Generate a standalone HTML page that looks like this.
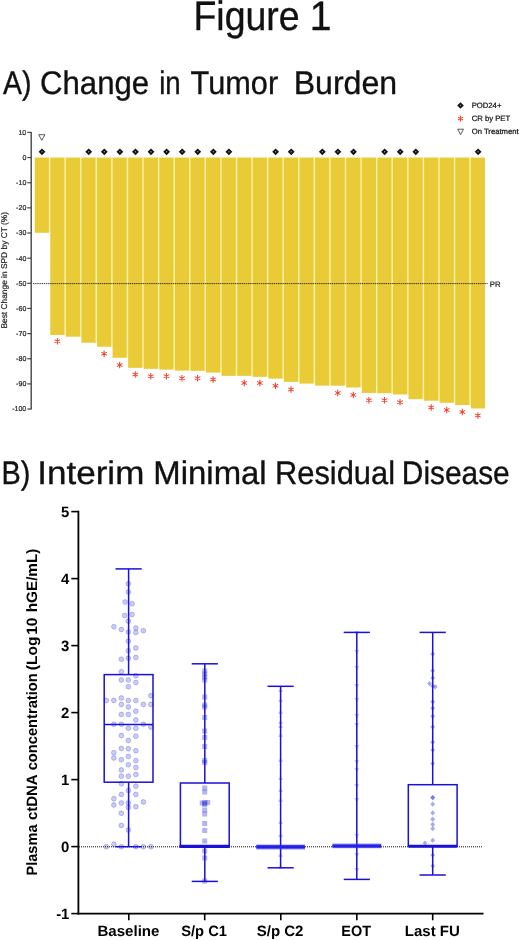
<!DOCTYPE html><html><head><meta charset="utf-8"><title>Figure 1</title><style>
html,body{margin:0;padding:0;background:#fff;}body{width:520px;height:940px;overflow:hidden;font-family:"Liberation Sans",sans-serif;}svg{display:block;position:absolute;left:0;top:0}text{font-family:"Liberation Sans",sans-serif;text-rendering:geometricPrecision;}
</style></head><body>
<div style="position:absolute;left:0;top:0;width:520px;height:940px;transform:translateZ(0);will-change:transform;background:#fff">
<svg width="520" height="940" viewBox="0 0 520 940">
<rect width="520" height="940" fill="#fff"/>
<text id="t0" x="193.41" y="30" font-size="41" fill="#111" stroke="#111" stroke-width="0.35" textLength="106.26" lengthAdjust="spacingAndGlyphs">Figure</text>
<text id="t1" x="309.79" y="30" font-size="41" fill="#111" stroke="#111" stroke-width="0.35" textLength="21.75" lengthAdjust="spacingAndGlyphs">1</text>
<text id="a0" x="3.05" y="94.3" font-size="32.7" fill="#111" stroke="#111" stroke-width="0.35" textLength="28.50" lengthAdjust="spacingAndGlyphs">A)</text>
<text id="a1" x="40.03" y="94.3" font-size="32.7" fill="#111" stroke="#111" stroke-width="0.35" textLength="109.10" lengthAdjust="spacingAndGlyphs">Change</text>
<text id="a2" x="159.15" y="94.3" font-size="32.7" fill="#111" stroke="#111" stroke-width="0.35" textLength="21.49" lengthAdjust="spacingAndGlyphs">in</text>
<text id="a3" x="190.61" y="94.3" font-size="32.7" fill="#111" stroke="#111" stroke-width="0.35" textLength="87.53" lengthAdjust="spacingAndGlyphs">Tumor</text>
<text id="a4" x="293.65" y="94.3" font-size="32.7" fill="#111" stroke="#111" stroke-width="0.35" textLength="103.44" lengthAdjust="spacingAndGlyphs">Burden</text>
<text id="b0" x="1.53" y="483.7" font-size="32.7" fill="#111" stroke="#111" stroke-width="0.35" textLength="28.89" lengthAdjust="spacingAndGlyphs">B)</text>
<text id="b1" x="37.38" y="483.7" font-size="32.7" fill="#111" stroke="#111" stroke-width="0.35" textLength="106.91" lengthAdjust="spacingAndGlyphs">Interim</text>
<text id="b2" x="153.36" y="483.7" font-size="32.7" fill="#111" stroke="#111" stroke-width="0.35" textLength="113.28" lengthAdjust="spacingAndGlyphs">Minimal</text>
<text id="b3" x="274.95" y="483.7" font-size="32.7" fill="#111" stroke="#111" stroke-width="0.35" textLength="120.12" lengthAdjust="spacingAndGlyphs">Residual</text>
<text id="b4" x="401.82" y="483.7" font-size="32.7" fill="#111" stroke="#111" stroke-width="0.35" textLength="107.87" lengthAdjust="spacingAndGlyphs">Disease</text>
<g id="chartA">
<rect x="48.60" y="157.55" width="1.98" height="75.25" fill="#FFF3A6"/>
<rect x="64.18" y="157.55" width="1.98" height="177.41" fill="#FFF3A6"/>
<rect x="79.75" y="157.55" width="1.98" height="179.16" fill="#FFF3A6"/>
<rect x="95.33" y="157.55" width="1.98" height="185.19" fill="#FFF3A6"/>
<rect x="110.90" y="157.55" width="1.98" height="189.20" fill="#FFF3A6"/>
<rect x="126.48" y="157.55" width="1.98" height="200.25" fill="#FFF3A6"/>
<rect x="142.05" y="157.55" width="1.98" height="210.29" fill="#FFF3A6"/>
<rect x="157.62" y="157.55" width="1.98" height="211.29" fill="#FFF3A6"/>
<rect x="173.20" y="157.55" width="1.98" height="212.04" fill="#FFF3A6"/>
<rect x="188.77" y="157.55" width="1.98" height="213.05" fill="#FFF3A6"/>
<rect x="204.35" y="157.55" width="1.98" height="213.30" fill="#FFF3A6"/>
<rect x="219.92" y="157.55" width="1.98" height="215.06" fill="#FFF3A6"/>
<rect x="235.50" y="157.55" width="1.98" height="218.32" fill="#FFF3A6"/>
<rect x="251.07" y="157.55" width="1.98" height="218.32" fill="#FFF3A6"/>
<rect x="266.65" y="157.55" width="1.98" height="219.32" fill="#FFF3A6"/>
<rect x="282.22" y="157.55" width="1.98" height="221.08" fill="#FFF3A6"/>
<rect x="297.80" y="157.55" width="1.98" height="224.34" fill="#FFF3A6"/>
<rect x="313.37" y="157.55" width="1.98" height="226.10" fill="#FFF3A6"/>
<rect x="328.95" y="157.55" width="1.98" height="228.11" fill="#FFF3A6"/>
<rect x="344.52" y="157.55" width="1.98" height="228.11" fill="#FFF3A6"/>
<rect x="360.10" y="157.55" width="1.98" height="229.87" fill="#FFF3A6"/>
<rect x="375.67" y="157.55" width="1.98" height="235.39" fill="#FFF3A6"/>
<rect x="391.25" y="157.55" width="1.98" height="235.64" fill="#FFF3A6"/>
<rect x="406.82" y="157.55" width="1.98" height="236.89" fill="#FFF3A6"/>
<rect x="422.40" y="157.55" width="1.98" height="241.66" fill="#FFF3A6"/>
<rect x="437.97" y="157.55" width="1.98" height="243.17" fill="#FFF3A6"/>
<rect x="453.55" y="157.55" width="1.98" height="245.18" fill="#FFF3A6"/>
<rect x="469.12" y="157.55" width="1.98" height="247.44" fill="#FFF3A6"/>
<rect x="34.70" y="157.55" width="14.2" height="75.25" fill="#E8CB37"/>
<rect x="50.28" y="157.55" width="14.2" height="177.41" fill="#E8CB37"/>
<rect x="65.85" y="157.55" width="14.2" height="179.16" fill="#E8CB37"/>
<rect x="81.42" y="157.55" width="14.2" height="185.19" fill="#E8CB37"/>
<rect x="97.00" y="157.55" width="14.2" height="189.20" fill="#E8CB37"/>
<rect x="112.58" y="157.55" width="14.2" height="200.25" fill="#E8CB37"/>
<rect x="128.15" y="157.55" width="14.2" height="210.29" fill="#E8CB37"/>
<rect x="143.72" y="157.55" width="14.2" height="211.29" fill="#E8CB37"/>
<rect x="159.30" y="157.55" width="14.2" height="212.04" fill="#E8CB37"/>
<rect x="174.88" y="157.55" width="14.2" height="213.05" fill="#E8CB37"/>
<rect x="190.45" y="157.55" width="14.2" height="213.30" fill="#E8CB37"/>
<rect x="206.02" y="157.55" width="14.2" height="215.06" fill="#E8CB37"/>
<rect x="221.60" y="157.55" width="14.2" height="218.32" fill="#E8CB37"/>
<rect x="237.18" y="157.55" width="14.2" height="218.32" fill="#E8CB37"/>
<rect x="252.75" y="157.55" width="14.2" height="219.32" fill="#E8CB37"/>
<rect x="268.32" y="157.55" width="14.2" height="221.08" fill="#E8CB37"/>
<rect x="283.90" y="157.55" width="14.2" height="224.34" fill="#E8CB37"/>
<rect x="299.47" y="157.55" width="14.2" height="226.10" fill="#E8CB37"/>
<rect x="315.05" y="157.55" width="14.2" height="228.11" fill="#E8CB37"/>
<rect x="330.62" y="157.55" width="14.2" height="228.11" fill="#E8CB37"/>
<rect x="346.20" y="157.55" width="14.2" height="229.87" fill="#E8CB37"/>
<rect x="361.77" y="157.55" width="14.2" height="235.39" fill="#E8CB37"/>
<rect x="377.35" y="157.55" width="14.2" height="235.64" fill="#E8CB37"/>
<rect x="392.92" y="157.55" width="14.2" height="236.89" fill="#E8CB37"/>
<rect x="408.50" y="157.55" width="14.2" height="241.66" fill="#E8CB37"/>
<rect x="424.07" y="157.55" width="14.2" height="243.17" fill="#E8CB37"/>
<rect x="439.65" y="157.55" width="14.2" height="245.18" fill="#E8CB37"/>
<rect x="455.22" y="157.55" width="14.2" height="247.44" fill="#E8CB37"/>
<rect x="470.80" y="157.55" width="14.2" height="250.95" fill="#E8CB37"/>
<line x1="31.2" y1="131.90" x2="31.2" y2="409.55" stroke="#444" stroke-width="1.4"/>
<line x1="27.3" y1="132.40" x2="31.2" y2="132.40" stroke="#444" stroke-width="1.2"/>
<text x="26.3" y="134.80" font-size="7.05" fill="#222" stroke="#222" stroke-width="0.2" text-anchor="end">10</text>
<line x1="27.3" y1="157.55" x2="31.2" y2="157.55" stroke="#444" stroke-width="1.2"/>
<text x="26.3" y="159.95" font-size="7.05" fill="#222" stroke="#222" stroke-width="0.2" text-anchor="end">0</text>
<line x1="27.3" y1="182.70" x2="31.2" y2="182.70" stroke="#444" stroke-width="1.2"/>
<text x="26.3" y="185.10" font-size="7.05" fill="#222" stroke="#222" stroke-width="0.2" text-anchor="end">-10</text>
<line x1="27.3" y1="207.85" x2="31.2" y2="207.85" stroke="#444" stroke-width="1.2"/>
<text x="26.3" y="210.25" font-size="7.05" fill="#222" stroke="#222" stroke-width="0.2" text-anchor="end">-20</text>
<line x1="27.3" y1="233.00" x2="31.2" y2="233.00" stroke="#444" stroke-width="1.2"/>
<text x="26.3" y="235.40" font-size="7.05" fill="#222" stroke="#222" stroke-width="0.2" text-anchor="end">-30</text>
<line x1="27.3" y1="258.15" x2="31.2" y2="258.15" stroke="#444" stroke-width="1.2"/>
<text x="26.3" y="260.55" font-size="7.05" fill="#222" stroke="#222" stroke-width="0.2" text-anchor="end">-40</text>
<line x1="27.3" y1="283.30" x2="31.2" y2="283.30" stroke="#444" stroke-width="1.2"/>
<text x="26.3" y="285.70" font-size="7.05" fill="#222" stroke="#222" stroke-width="0.2" text-anchor="end">-50</text>
<line x1="27.3" y1="308.45" x2="31.2" y2="308.45" stroke="#444" stroke-width="1.2"/>
<text x="26.3" y="310.85" font-size="7.05" fill="#222" stroke="#222" stroke-width="0.2" text-anchor="end">-60</text>
<line x1="27.3" y1="333.60" x2="31.2" y2="333.60" stroke="#444" stroke-width="1.2"/>
<text x="26.3" y="336.00" font-size="7.05" fill="#222" stroke="#222" stroke-width="0.2" text-anchor="end">-70</text>
<line x1="27.3" y1="358.75" x2="31.2" y2="358.75" stroke="#444" stroke-width="1.2"/>
<text x="26.3" y="361.15" font-size="7.05" fill="#222" stroke="#222" stroke-width="0.2" text-anchor="end">-80</text>
<line x1="27.3" y1="383.90" x2="31.2" y2="383.90" stroke="#444" stroke-width="1.2"/>
<text x="26.3" y="386.30" font-size="7.05" fill="#222" stroke="#222" stroke-width="0.2" text-anchor="end">-90</text>
<line x1="27.3" y1="409.05" x2="31.2" y2="409.05" stroke="#444" stroke-width="1.2"/>
<text x="26.3" y="411.45" font-size="7.05" fill="#222" stroke="#222" stroke-width="0.2" text-anchor="end">-100</text>
<line x1="33" y1="283.6" x2="487.7" y2="283.6" stroke="#222" stroke-width="0.9" stroke-dasharray="1.4 0.75"/>
<text x="489.8" y="286.5" font-size="7.75" fill="#222" stroke="#222" stroke-width="0.2">PR</text>
<text transform="translate(7.3,328.6) rotate(-90)" font-size="8.3" fill="#222" stroke="#222" stroke-width="0.2" textLength="116.6" lengthAdjust="spacingAndGlyphs">Best Change in SPD by CT (%)</text>
<path d="M42.00 148.40L45.40 151.80L42.00 155.20L38.60 151.80Z" fill="#111"/><circle cx="42.00" cy="151.80" r="0.7" fill="#999"/>
<path d="M88.73 148.40L92.13 151.80L88.73 155.20L85.33 151.80Z" fill="#111"/><circle cx="88.73" cy="151.80" r="0.7" fill="#999"/>
<path d="M104.30 148.40L107.70 151.80L104.30 155.20L100.90 151.80Z" fill="#111"/><circle cx="104.30" cy="151.80" r="0.7" fill="#999"/>
<path d="M119.88 148.40L123.28 151.80L119.88 155.20L116.48 151.80Z" fill="#111"/><circle cx="119.88" cy="151.80" r="0.7" fill="#999"/>
<path d="M135.45 148.40L138.85 151.80L135.45 155.20L132.05 151.80Z" fill="#111"/><circle cx="135.45" cy="151.80" r="0.7" fill="#999"/>
<path d="M151.02 148.40L154.42 151.80L151.02 155.20L147.62 151.80Z" fill="#111"/><circle cx="151.02" cy="151.80" r="0.7" fill="#999"/>
<path d="M166.60 148.40L170.00 151.80L166.60 155.20L163.20 151.80Z" fill="#111"/><circle cx="166.60" cy="151.80" r="0.7" fill="#999"/>
<path d="M182.17 148.40L185.57 151.80L182.17 155.20L178.77 151.80Z" fill="#111"/><circle cx="182.17" cy="151.80" r="0.7" fill="#999"/>
<path d="M197.75 148.40L201.15 151.80L197.75 155.20L194.35 151.80Z" fill="#111"/><circle cx="197.75" cy="151.80" r="0.7" fill="#999"/>
<path d="M213.32 148.40L216.72 151.80L213.32 155.20L209.92 151.80Z" fill="#111"/><circle cx="213.32" cy="151.80" r="0.7" fill="#999"/>
<path d="M228.90 148.40L232.30 151.80L228.90 155.20L225.50 151.80Z" fill="#111"/><circle cx="228.90" cy="151.80" r="0.7" fill="#999"/>
<path d="M275.62 148.40L279.02 151.80L275.62 155.20L272.23 151.80Z" fill="#111"/><circle cx="275.62" cy="151.80" r="0.7" fill="#999"/>
<path d="M291.20 148.40L294.60 151.80L291.20 155.20L287.80 151.80Z" fill="#111"/><circle cx="291.20" cy="151.80" r="0.7" fill="#999"/>
<path d="M322.35 148.40L325.75 151.80L322.35 155.20L318.95 151.80Z" fill="#111"/><circle cx="322.35" cy="151.80" r="0.7" fill="#999"/>
<path d="M337.93 148.40L341.32 151.80L337.93 155.20L334.53 151.80Z" fill="#111"/><circle cx="337.93" cy="151.80" r="0.7" fill="#999"/>
<path d="M353.50 148.40L356.90 151.80L353.50 155.20L350.10 151.80Z" fill="#111"/><circle cx="353.50" cy="151.80" r="0.7" fill="#999"/>
<path d="M384.65 148.40L388.05 151.80L384.65 155.20L381.25 151.80Z" fill="#111"/><circle cx="384.65" cy="151.80" r="0.7" fill="#999"/>
<path d="M400.22 148.40L403.62 151.80L400.22 155.20L396.82 151.80Z" fill="#111"/><circle cx="400.22" cy="151.80" r="0.7" fill="#999"/>
<path d="M415.80 148.40L419.20 151.80L415.80 155.20L412.40 151.80Z" fill="#111"/><circle cx="415.80" cy="151.80" r="0.7" fill="#999"/>
<path d="M478.10 148.40L481.50 151.80L478.10 155.20L474.70 151.80Z" fill="#111"/><circle cx="478.10" cy="151.80" r="0.7" fill="#999"/>
<path d="M38.70 134.70L44.90 134.70L41.80 140.30Z" fill="#fff" stroke="#333" stroke-width="0.8"/>
<path d="M57.38 338.05L57.38 344.45M54.60 339.65L60.15 342.85M60.15 339.65L54.60 342.85" stroke="#F0402A" stroke-width="1.05" fill="none"/>
<path d="M104.10 350.55L104.10 356.95M101.33 352.15L106.87 355.35M106.87 352.15L101.33 355.35" stroke="#F0402A" stroke-width="1.05" fill="none"/>
<path d="M119.68 361.80L119.68 368.20M116.90 363.40L122.45 366.60M122.45 363.40L116.90 366.60" stroke="#F0402A" stroke-width="1.05" fill="none"/>
<path d="M135.25 371.30L135.25 377.70M132.48 372.90L138.02 376.10M138.02 372.90L132.48 376.10" stroke="#F0402A" stroke-width="1.05" fill="none"/>
<path d="M150.82 373.05L150.82 379.45M148.05 374.65L153.60 377.85M153.60 374.65L148.05 377.85" stroke="#F0402A" stroke-width="1.05" fill="none"/>
<path d="M166.40 373.05L166.40 379.45M163.63 374.65L169.17 377.85M169.17 374.65L163.63 377.85" stroke="#F0402A" stroke-width="1.05" fill="none"/>
<path d="M181.97 375.05L181.97 381.45M179.20 376.65L184.75 379.85M184.75 376.65L179.20 379.85" stroke="#F0402A" stroke-width="1.05" fill="none"/>
<path d="M197.55 375.05L197.55 381.45M194.78 376.65L200.32 379.85M200.32 376.65L194.78 379.85" stroke="#F0402A" stroke-width="1.05" fill="none"/>
<path d="M213.12 376.30L213.12 382.70M210.35 377.90L215.90 381.10M215.90 377.90L210.35 381.10" stroke="#F0402A" stroke-width="1.05" fill="none"/>
<path d="M244.28 379.80L244.28 386.20M241.50 381.40L247.05 384.60M247.05 381.40L241.50 384.60" stroke="#F0402A" stroke-width="1.05" fill="none"/>
<path d="M259.85 379.80L259.85 386.20M257.08 381.40L262.62 384.60M262.62 381.40L257.08 384.60" stroke="#F0402A" stroke-width="1.05" fill="none"/>
<path d="M275.43 382.55L275.43 388.95M272.65 384.15L278.20 387.35M278.20 384.15L272.65 387.35" stroke="#F0402A" stroke-width="1.05" fill="none"/>
<path d="M291.00 386.30L291.00 392.70M288.23 387.90L293.77 391.10M293.77 387.90L288.23 391.10" stroke="#F0402A" stroke-width="1.05" fill="none"/>
<path d="M337.73 389.80L337.73 396.20M334.95 391.40L340.50 394.60M340.50 391.40L334.95 394.60" stroke="#F0402A" stroke-width="1.05" fill="none"/>
<path d="M353.30 391.80L353.30 398.20M350.53 393.40L356.07 396.60M356.07 393.40L350.53 396.60" stroke="#F0402A" stroke-width="1.05" fill="none"/>
<path d="M368.88 397.05L368.88 403.45M366.10 398.65L371.65 401.85M371.65 398.65L366.10 401.85" stroke="#F0402A" stroke-width="1.05" fill="none"/>
<path d="M384.45 397.05L384.45 403.45M381.68 398.65L387.22 401.85M387.22 398.65L381.68 401.85" stroke="#F0402A" stroke-width="1.05" fill="none"/>
<path d="M400.02 399.05L400.02 405.45M397.25 400.65L402.80 403.85M402.80 400.65L397.25 403.85" stroke="#F0402A" stroke-width="1.05" fill="none"/>
<path d="M431.18 404.30L431.18 410.70M428.40 405.90L433.95 409.10M433.95 405.90L428.40 409.10" stroke="#F0402A" stroke-width="1.05" fill="none"/>
<path d="M446.75 406.80L446.75 413.20M443.98 408.40L449.52 411.60M449.52 408.40L443.98 411.60" stroke="#F0402A" stroke-width="1.05" fill="none"/>
<path d="M462.32 408.80L462.32 415.20M459.55 410.40L465.10 413.60M465.10 410.40L459.55 413.60" stroke="#F0402A" stroke-width="1.05" fill="none"/>
<path d="M477.90 412.30L477.90 418.70M475.13 413.90L480.67 417.10M480.67 413.90L475.13 417.10" stroke="#F0402A" stroke-width="1.05" fill="none"/>
<path d="M460.50 102.20L463.80 105.50L460.50 108.80L457.20 105.50Z" fill="#111"/><circle cx="460.50" cy="105.50" r="0.7" fill="#999"/>
<path d="M460.50 115.70L460.50 121.50M457.99 117.15L463.01 120.05M463.01 117.15L457.99 120.05" stroke="#F0402A" stroke-width="1.05" fill="none"/>
<path d="M457.70 129.20L463.50 129.20L460.60 134.60Z" fill="#fff" stroke="#333" stroke-width="0.8"/>
<text x="471.7" y="108.2" font-size="7.7" fill="#111" stroke="#111" stroke-width="0.22">POD24+</text>
<text x="471.7" y="121.2" font-size="7.7" fill="#111" stroke="#111" stroke-width="0.22">CR by PET</text>
<text x="471.7" y="134.3" font-size="7.7" fill="#111" stroke="#111" stroke-width="0.22">On Treatment</text>
</g>
<g id="chartB">
<circle cx="128.35" cy="583.75" r="2.4" fill="#3A44D8" fill-opacity="0.27" stroke="#3A44D8" stroke-opacity="0.32" stroke-width="0.9"/>
<circle cx="128.35" cy="592.00" r="2.4" fill="#3A44D8" fill-opacity="0.27" stroke="#3A44D8" stroke-opacity="0.32" stroke-width="0.9"/>
<circle cx="125.10" cy="602.00" r="2.4" fill="#3A44D8" fill-opacity="0.27" stroke="#3A44D8" stroke-opacity="0.32" stroke-width="0.9"/>
<circle cx="132.10" cy="603.75" r="2.4" fill="#3A44D8" fill-opacity="0.27" stroke="#3A44D8" stroke-opacity="0.32" stroke-width="0.9"/>
<circle cx="124.60" cy="615.50" r="2.4" fill="#3A44D8" fill-opacity="0.27" stroke="#3A44D8" stroke-opacity="0.32" stroke-width="0.9"/>
<circle cx="132.10" cy="614.50" r="2.4" fill="#3A44D8" fill-opacity="0.27" stroke="#3A44D8" stroke-opacity="0.32" stroke-width="0.9"/>
<circle cx="128.35" cy="621.25" r="2.4" fill="#3A44D8" fill-opacity="0.27" stroke="#3A44D8" stroke-opacity="0.32" stroke-width="0.9"/>
<circle cx="113.85" cy="626.75" r="2.4" fill="#3A44D8" fill-opacity="0.27" stroke="#3A44D8" stroke-opacity="0.32" stroke-width="0.9"/>
<circle cx="121.35" cy="629.50" r="2.4" fill="#3A44D8" fill-opacity="0.27" stroke="#3A44D8" stroke-opacity="0.32" stroke-width="0.9"/>
<circle cx="128.35" cy="632.00" r="2.4" fill="#3A44D8" fill-opacity="0.27" stroke="#3A44D8" stroke-opacity="0.32" stroke-width="0.9"/>
<circle cx="135.85" cy="628.00" r="2.4" fill="#3A44D8" fill-opacity="0.27" stroke="#3A44D8" stroke-opacity="0.32" stroke-width="0.9"/>
<circle cx="135.85" cy="632.50" r="2.4" fill="#3A44D8" fill-opacity="0.27" stroke="#3A44D8" stroke-opacity="0.32" stroke-width="0.9"/>
<circle cx="143.35" cy="630.75" r="2.4" fill="#3A44D8" fill-opacity="0.27" stroke="#3A44D8" stroke-opacity="0.32" stroke-width="0.9"/>
<circle cx="128.35" cy="641.25" r="2.4" fill="#3A44D8" fill-opacity="0.27" stroke="#3A44D8" stroke-opacity="0.32" stroke-width="0.9"/>
<circle cx="135.85" cy="648.00" r="2.4" fill="#3A44D8" fill-opacity="0.27" stroke="#3A44D8" stroke-opacity="0.32" stroke-width="0.9"/>
<circle cx="128.35" cy="650.75" r="2.4" fill="#3A44D8" fill-opacity="0.27" stroke="#3A44D8" stroke-opacity="0.32" stroke-width="0.9"/>
<circle cx="121.35" cy="659.25" r="2.4" fill="#3A44D8" fill-opacity="0.27" stroke="#3A44D8" stroke-opacity="0.32" stroke-width="0.9"/>
<circle cx="128.35" cy="658.25" r="2.4" fill="#3A44D8" fill-opacity="0.27" stroke="#3A44D8" stroke-opacity="0.32" stroke-width="0.9"/>
<circle cx="135.85" cy="657.50" r="2.4" fill="#3A44D8" fill-opacity="0.27" stroke="#3A44D8" stroke-opacity="0.32" stroke-width="0.9"/>
<circle cx="121.35" cy="671.75" r="2.4" fill="#3A44D8" fill-opacity="0.27" stroke="#3A44D8" stroke-opacity="0.32" stroke-width="0.9"/>
<circle cx="135.85" cy="675.75" r="2.4" fill="#3A44D8" fill-opacity="0.27" stroke="#3A44D8" stroke-opacity="0.32" stroke-width="0.9"/>
<circle cx="121.35" cy="680.00" r="2.4" fill="#3A44D8" fill-opacity="0.27" stroke="#3A44D8" stroke-opacity="0.32" stroke-width="0.9"/>
<circle cx="128.35" cy="680.00" r="2.4" fill="#3A44D8" fill-opacity="0.27" stroke="#3A44D8" stroke-opacity="0.32" stroke-width="0.9"/>
<circle cx="135.85" cy="682.50" r="2.4" fill="#3A44D8" fill-opacity="0.27" stroke="#3A44D8" stroke-opacity="0.32" stroke-width="0.9"/>
<circle cx="128.35" cy="686.75" r="2.4" fill="#3A44D8" fill-opacity="0.27" stroke="#3A44D8" stroke-opacity="0.32" stroke-width="0.9"/>
<circle cx="150.85" cy="695.75" r="2.4" fill="#3A44D8" fill-opacity="0.27" stroke="#3A44D8" stroke-opacity="0.32" stroke-width="0.9"/>
<circle cx="121.35" cy="698.00" r="2.4" fill="#3A44D8" fill-opacity="0.27" stroke="#3A44D8" stroke-opacity="0.32" stroke-width="0.9"/>
<circle cx="106.35" cy="700.50" r="2.4" fill="#3A44D8" fill-opacity="0.27" stroke="#3A44D8" stroke-opacity="0.32" stroke-width="0.9"/>
<circle cx="113.85" cy="700.50" r="2.4" fill="#3A44D8" fill-opacity="0.27" stroke="#3A44D8" stroke-opacity="0.32" stroke-width="0.9"/>
<circle cx="128.35" cy="700.50" r="2.4" fill="#3A44D8" fill-opacity="0.27" stroke="#3A44D8" stroke-opacity="0.32" stroke-width="0.9"/>
<circle cx="135.85" cy="700.50" r="2.4" fill="#3A44D8" fill-opacity="0.27" stroke="#3A44D8" stroke-opacity="0.32" stroke-width="0.9"/>
<circle cx="121.35" cy="704.50" r="2.4" fill="#3A44D8" fill-opacity="0.27" stroke="#3A44D8" stroke-opacity="0.32" stroke-width="0.9"/>
<circle cx="143.35" cy="704.50" r="2.4" fill="#3A44D8" fill-opacity="0.27" stroke="#3A44D8" stroke-opacity="0.32" stroke-width="0.9"/>
<circle cx="150.85" cy="704.50" r="2.4" fill="#3A44D8" fill-opacity="0.27" stroke="#3A44D8" stroke-opacity="0.32" stroke-width="0.9"/>
<circle cx="128.35" cy="707.00" r="2.4" fill="#3A44D8" fill-opacity="0.27" stroke="#3A44D8" stroke-opacity="0.32" stroke-width="0.9"/>
<circle cx="135.85" cy="711.25" r="2.4" fill="#3A44D8" fill-opacity="0.27" stroke="#3A44D8" stroke-opacity="0.32" stroke-width="0.9"/>
<circle cx="121.35" cy="714.50" r="2.4" fill="#3A44D8" fill-opacity="0.27" stroke="#3A44D8" stroke-opacity="0.32" stroke-width="0.9"/>
<circle cx="128.35" cy="714.50" r="2.4" fill="#3A44D8" fill-opacity="0.27" stroke="#3A44D8" stroke-opacity="0.32" stroke-width="0.9"/>
<circle cx="135.85" cy="720.00" r="2.4" fill="#3A44D8" fill-opacity="0.27" stroke="#3A44D8" stroke-opacity="0.32" stroke-width="0.9"/>
<circle cx="113.85" cy="724.25" r="2.4" fill="#3A44D8" fill-opacity="0.27" stroke="#3A44D8" stroke-opacity="0.32" stroke-width="0.9"/>
<circle cx="121.35" cy="724.25" r="2.4" fill="#3A44D8" fill-opacity="0.27" stroke="#3A44D8" stroke-opacity="0.32" stroke-width="0.9"/>
<circle cx="143.35" cy="724.25" r="2.4" fill="#3A44D8" fill-opacity="0.27" stroke="#3A44D8" stroke-opacity="0.32" stroke-width="0.9"/>
<circle cx="150.85" cy="727.00" r="2.4" fill="#3A44D8" fill-opacity="0.27" stroke="#3A44D8" stroke-opacity="0.32" stroke-width="0.9"/>
<circle cx="128.35" cy="728.25" r="2.4" fill="#3A44D8" fill-opacity="0.27" stroke="#3A44D8" stroke-opacity="0.32" stroke-width="0.9"/>
<circle cx="135.85" cy="728.25" r="2.4" fill="#3A44D8" fill-opacity="0.27" stroke="#3A44D8" stroke-opacity="0.32" stroke-width="0.9"/>
<circle cx="121.35" cy="735.50" r="2.4" fill="#3A44D8" fill-opacity="0.27" stroke="#3A44D8" stroke-opacity="0.32" stroke-width="0.9"/>
<circle cx="135.85" cy="736.25" r="2.4" fill="#3A44D8" fill-opacity="0.27" stroke="#3A44D8" stroke-opacity="0.32" stroke-width="0.9"/>
<circle cx="128.35" cy="740.50" r="2.4" fill="#3A44D8" fill-opacity="0.27" stroke="#3A44D8" stroke-opacity="0.32" stroke-width="0.9"/>
<circle cx="121.35" cy="748.50" r="2.4" fill="#3A44D8" fill-opacity="0.27" stroke="#3A44D8" stroke-opacity="0.32" stroke-width="0.9"/>
<circle cx="128.35" cy="748.75" r="2.4" fill="#3A44D8" fill-opacity="0.27" stroke="#3A44D8" stroke-opacity="0.32" stroke-width="0.9"/>
<circle cx="135.85" cy="750.75" r="2.4" fill="#3A44D8" fill-opacity="0.27" stroke="#3A44D8" stroke-opacity="0.32" stroke-width="0.9"/>
<circle cx="113.85" cy="752.70" r="2.4" fill="#3A44D8" fill-opacity="0.27" stroke="#3A44D8" stroke-opacity="0.32" stroke-width="0.9"/>
<circle cx="128.35" cy="756.50" r="2.4" fill="#3A44D8" fill-opacity="0.27" stroke="#3A44D8" stroke-opacity="0.32" stroke-width="0.9"/>
<circle cx="113.85" cy="758.00" r="2.4" fill="#3A44D8" fill-opacity="0.27" stroke="#3A44D8" stroke-opacity="0.32" stroke-width="0.9"/>
<circle cx="121.35" cy="759.70" r="2.4" fill="#3A44D8" fill-opacity="0.27" stroke="#3A44D8" stroke-opacity="0.32" stroke-width="0.9"/>
<circle cx="135.85" cy="760.60" r="2.4" fill="#3A44D8" fill-opacity="0.27" stroke="#3A44D8" stroke-opacity="0.32" stroke-width="0.9"/>
<circle cx="128.35" cy="764.80" r="2.4" fill="#3A44D8" fill-opacity="0.27" stroke="#3A44D8" stroke-opacity="0.32" stroke-width="0.9"/>
<circle cx="135.85" cy="767.50" r="2.4" fill="#3A44D8" fill-opacity="0.27" stroke="#3A44D8" stroke-opacity="0.32" stroke-width="0.9"/>
<circle cx="121.35" cy="770.00" r="2.4" fill="#3A44D8" fill-opacity="0.27" stroke="#3A44D8" stroke-opacity="0.32" stroke-width="0.9"/>
<circle cx="121.35" cy="776.25" r="2.4" fill="#3A44D8" fill-opacity="0.27" stroke="#3A44D8" stroke-opacity="0.32" stroke-width="0.9"/>
<circle cx="128.35" cy="776.25" r="2.4" fill="#3A44D8" fill-opacity="0.27" stroke="#3A44D8" stroke-opacity="0.32" stroke-width="0.9"/>
<circle cx="135.85" cy="774.50" r="2.4" fill="#3A44D8" fill-opacity="0.27" stroke="#3A44D8" stroke-opacity="0.32" stroke-width="0.9"/>
<circle cx="121.35" cy="783.75" r="2.4" fill="#3A44D8" fill-opacity="0.27" stroke="#3A44D8" stroke-opacity="0.32" stroke-width="0.9"/>
<circle cx="135.85" cy="786.25" r="2.4" fill="#3A44D8" fill-opacity="0.27" stroke="#3A44D8" stroke-opacity="0.32" stroke-width="0.9"/>
<circle cx="128.35" cy="790.50" r="2.4" fill="#3A44D8" fill-opacity="0.27" stroke="#3A44D8" stroke-opacity="0.32" stroke-width="0.9"/>
<circle cx="121.35" cy="794.50" r="2.4" fill="#3A44D8" fill-opacity="0.27" stroke="#3A44D8" stroke-opacity="0.32" stroke-width="0.9"/>
<circle cx="135.85" cy="794.50" r="2.4" fill="#3A44D8" fill-opacity="0.27" stroke="#3A44D8" stroke-opacity="0.32" stroke-width="0.9"/>
<circle cx="113.85" cy="798.75" r="2.4" fill="#3A44D8" fill-opacity="0.27" stroke="#3A44D8" stroke-opacity="0.32" stroke-width="0.9"/>
<circle cx="143.35" cy="802.00" r="2.4" fill="#3A44D8" fill-opacity="0.27" stroke="#3A44D8" stroke-opacity="0.32" stroke-width="0.9"/>
<circle cx="121.35" cy="803.00" r="2.4" fill="#3A44D8" fill-opacity="0.27" stroke="#3A44D8" stroke-opacity="0.32" stroke-width="0.9"/>
<circle cx="128.35" cy="803.00" r="2.4" fill="#3A44D8" fill-opacity="0.27" stroke="#3A44D8" stroke-opacity="0.32" stroke-width="0.9"/>
<circle cx="113.85" cy="805.00" r="2.4" fill="#3A44D8" fill-opacity="0.27" stroke="#3A44D8" stroke-opacity="0.32" stroke-width="0.9"/>
<circle cx="135.85" cy="806.75" r="2.4" fill="#3A44D8" fill-opacity="0.27" stroke="#3A44D8" stroke-opacity="0.32" stroke-width="0.9"/>
<circle cx="128.35" cy="807.50" r="2.4" fill="#3A44D8" fill-opacity="0.27" stroke="#3A44D8" stroke-opacity="0.32" stroke-width="0.9"/>
<circle cx="121.35" cy="813.25" r="2.4" fill="#3A44D8" fill-opacity="0.27" stroke="#3A44D8" stroke-opacity="0.32" stroke-width="0.9"/>
<circle cx="121.35" cy="825.50" r="2.4" fill="#3A44D8" fill-opacity="0.27" stroke="#3A44D8" stroke-opacity="0.32" stroke-width="0.9"/>
<circle cx="128.35" cy="830.00" r="2.4" fill="#3A44D8" fill-opacity="0.27" stroke="#3A44D8" stroke-opacity="0.32" stroke-width="0.9"/>
<circle cx="106.35" cy="846.75" r="2.4" fill="#3A44D8" fill-opacity="0.27" stroke="#3A44D8" stroke-opacity="0.32" stroke-width="0.9"/>
<circle cx="113.85" cy="844.25" r="2.4" fill="#3A44D8" fill-opacity="0.27" stroke="#3A44D8" stroke-opacity="0.32" stroke-width="0.9"/>
<circle cx="121.35" cy="846.75" r="2.4" fill="#3A44D8" fill-opacity="0.27" stroke="#3A44D8" stroke-opacity="0.32" stroke-width="0.9"/>
<circle cx="135.85" cy="846.75" r="2.4" fill="#3A44D8" fill-opacity="0.27" stroke="#3A44D8" stroke-opacity="0.32" stroke-width="0.9"/>
<circle cx="143.35" cy="846.75" r="2.4" fill="#3A44D8" fill-opacity="0.27" stroke="#3A44D8" stroke-opacity="0.32" stroke-width="0.9"/>
<circle cx="150.85" cy="846.75" r="2.4" fill="#3A44D8" fill-opacity="0.27" stroke="#3A44D8" stroke-opacity="0.32" stroke-width="0.9"/>
<rect x="202.20" y="668.50" width="5" height="5" fill="#3A44D8" fill-opacity="0.4"/>
<rect x="202.20" y="671.50" width="5" height="5" fill="#3A44D8" fill-opacity="0.4"/>
<rect x="202.20" y="674.50" width="5" height="5" fill="#3A44D8" fill-opacity="0.4"/>
<rect x="202.20" y="677.50" width="5" height="5" fill="#3A44D8" fill-opacity="0.4"/>
<rect x="202.20" y="694.50" width="5" height="5" fill="#3A44D8" fill-opacity="0.4"/>
<rect x="202.20" y="702.50" width="5" height="5" fill="#3A44D8" fill-opacity="0.4"/>
<rect x="202.20" y="704.50" width="5" height="5" fill="#3A44D8" fill-opacity="0.4"/>
<rect x="202.20" y="715.00" width="5" height="5" fill="#3A44D8" fill-opacity="0.4"/>
<rect x="202.20" y="728.50" width="5" height="5" fill="#3A44D8" fill-opacity="0.4"/>
<rect x="202.20" y="735.00" width="5" height="5" fill="#3A44D8" fill-opacity="0.4"/>
<rect x="202.20" y="744.00" width="5" height="5" fill="#3A44D8" fill-opacity="0.4"/>
<rect x="202.20" y="758.00" width="5" height="5" fill="#3A44D8" fill-opacity="0.4"/>
<rect x="202.20" y="760.00" width="5" height="5" fill="#3A44D8" fill-opacity="0.4"/>
<rect x="202.20" y="785.50" width="5" height="5" fill="#3A44D8" fill-opacity="0.4"/>
<rect x="202.20" y="789.50" width="5" height="5" fill="#3A44D8" fill-opacity="0.4"/>
<rect x="202.20" y="800.00" width="5" height="5" fill="#3A44D8" fill-opacity="0.4"/>
<rect x="202.20" y="801.00" width="5" height="5" fill="#3A44D8" fill-opacity="0.4"/>
<rect x="202.20" y="802.00" width="5" height="5" fill="#3A44D8" fill-opacity="0.4"/>
<rect x="202.20" y="807.50" width="5" height="5" fill="#3A44D8" fill-opacity="0.4"/>
<rect x="202.20" y="811.50" width="5" height="5" fill="#3A44D8" fill-opacity="0.4"/>
<rect x="202.20" y="821.00" width="5" height="5" fill="#3A44D8" fill-opacity="0.4"/>
<rect x="202.20" y="828.00" width="5" height="5" fill="#3A44D8" fill-opacity="0.4"/>
<rect x="202.20" y="838.50" width="5" height="5" fill="#3A44D8" fill-opacity="0.4"/>
<rect x="202.20" y="848.50" width="5" height="5" fill="#3A44D8" fill-opacity="0.4"/>
<rect x="202.20" y="855.50" width="5" height="5" fill="#3A44D8" fill-opacity="0.4"/>
<rect x="202.20" y="878.50" width="5" height="5" fill="#3A44D8" fill-opacity="0.4"/>
<rect x="199.70" y="800.50" width="5" height="5" fill="#3A44D8" fill-opacity="0.4"/>
<rect x="205.20" y="800.00" width="5" height="5" fill="#3A44D8" fill-opacity="0.4"/>
<path d="M278.00 692.00L283.20 692.00L280.60 687.40Z" fill="#3A44D8" fill-opacity="0.3"/>
<path d="M278.00 702.00L283.20 702.00L280.60 697.40Z" fill="#3A44D8" fill-opacity="0.3"/>
<path d="M278.00 714.00L283.20 714.00L280.60 709.40Z" fill="#3A44D8" fill-opacity="0.3"/>
<path d="M278.00 724.00L283.20 724.00L280.60 719.40Z" fill="#3A44D8" fill-opacity="0.3"/>
<path d="M278.00 728.00L283.20 728.00L280.60 723.40Z" fill="#3A44D8" fill-opacity="0.3"/>
<path d="M278.00 737.00L283.20 737.00L280.60 732.40Z" fill="#3A44D8" fill-opacity="0.3"/>
<path d="M278.00 762.00L283.20 762.00L280.60 757.40Z" fill="#3A44D8" fill-opacity="0.3"/>
<path d="M278.00 780.00L283.20 780.00L280.60 775.40Z" fill="#3A44D8" fill-opacity="0.3"/>
<path d="M278.00 792.00L283.20 792.00L280.60 787.40Z" fill="#3A44D8" fill-opacity="0.3"/>
<path d="M278.00 802.00L283.20 802.00L280.60 797.40Z" fill="#3A44D8" fill-opacity="0.3"/>
<path d="M278.00 824.00L283.20 824.00L280.60 819.40Z" fill="#3A44D8" fill-opacity="0.3"/>
<path d="M278.00 837.00L283.20 837.00L280.60 832.40Z" fill="#3A44D8" fill-opacity="0.3"/>
<path d="M278.00 857.00L283.20 857.00L280.60 852.40Z" fill="#3A44D8" fill-opacity="0.3"/>
<path d="M278.00 869.00L283.20 869.00L280.60 864.40Z" fill="#3A44D8" fill-opacity="0.3"/>
<path d="M354.20 631.00L359.40 631.00L356.80 635.60Z" fill="#3A44D8" fill-opacity="0.3"/>
<path d="M354.20 650.00L359.40 650.00L356.80 654.60Z" fill="#3A44D8" fill-opacity="0.3"/>
<path d="M354.20 666.00L359.40 666.00L356.80 670.60Z" fill="#3A44D8" fill-opacity="0.3"/>
<path d="M354.20 684.00L359.40 684.00L356.80 688.60Z" fill="#3A44D8" fill-opacity="0.3"/>
<path d="M354.20 698.00L359.40 698.00L356.80 702.60Z" fill="#3A44D8" fill-opacity="0.3"/>
<path d="M354.20 714.00L359.40 714.00L356.80 718.60Z" fill="#3A44D8" fill-opacity="0.3"/>
<path d="M354.20 723.00L359.40 723.00L356.80 727.60Z" fill="#3A44D8" fill-opacity="0.3"/>
<path d="M354.20 745.00L359.40 745.00L356.80 749.60Z" fill="#3A44D8" fill-opacity="0.3"/>
<path d="M354.20 760.00L359.40 760.00L356.80 764.60Z" fill="#3A44D8" fill-opacity="0.3"/>
<path d="M354.20 768.00L359.40 768.00L356.80 772.60Z" fill="#3A44D8" fill-opacity="0.3"/>
<path d="M354.20 784.00L359.40 784.00L356.80 788.60Z" fill="#3A44D8" fill-opacity="0.3"/>
<path d="M354.20 798.00L359.40 798.00L356.80 802.60Z" fill="#3A44D8" fill-opacity="0.3"/>
<path d="M354.20 834.00L359.40 834.00L356.80 838.60Z" fill="#3A44D8" fill-opacity="0.3"/>
<path d="M354.20 853.00L359.40 853.00L356.80 857.60Z" fill="#3A44D8" fill-opacity="0.3"/>
<path d="M354.20 868.00L359.40 868.00L356.80 872.60Z" fill="#3A44D8" fill-opacity="0.3"/>
<path d="M432.70 651.30L435.10 653.90L432.70 656.50L430.30 653.90Z" fill="#3A44D8" fill-opacity="0.45"/>
<path d="M432.70 668.10L435.10 670.70L432.70 673.30L430.30 670.70Z" fill="#3A44D8" fill-opacity="0.45"/>
<path d="M432.70 675.30L435.10 677.90L432.70 680.50L430.30 677.90Z" fill="#3A44D8" fill-opacity="0.45"/>
<path d="M429.50 681.00L431.90 683.60L429.50 686.20L427.10 683.60Z" fill="#3A44D8" fill-opacity="0.45"/>
<path d="M435.30 684.20L437.70 686.80L435.30 689.40L432.90 686.80Z" fill="#3A44D8" fill-opacity="0.45"/>
<path d="M432.70 683.40L435.10 686.00L432.70 688.60L430.30 686.00Z" fill="#3A44D8" fill-opacity="0.45"/>
<path d="M432.70 699.20L435.10 701.80L432.70 704.40L430.30 701.80Z" fill="#3A44D8" fill-opacity="0.45"/>
<path d="M432.70 705.60L435.10 708.20L432.70 710.80L430.30 708.20Z" fill="#3A44D8" fill-opacity="0.45"/>
<path d="M432.70 713.60L435.10 716.20L432.70 718.80L430.30 716.20Z" fill="#3A44D8" fill-opacity="0.45"/>
<path d="M432.70 724.30L435.10 726.90L432.70 729.50L430.30 726.90Z" fill="#3A44D8" fill-opacity="0.45"/>
<path d="M432.70 739.60L435.10 742.20L432.70 744.80L430.30 742.20Z" fill="#3A44D8" fill-opacity="0.45"/>
<path d="M432.70 747.40L435.10 750.00L432.70 752.60L430.30 750.00Z" fill="#3A44D8" fill-opacity="0.45"/>
<path d="M432.70 760.90L435.10 763.50L432.70 766.10L430.30 763.50Z" fill="#3A44D8" fill-opacity="0.45"/>
<path d="M432.70 795.00L435.10 797.60L432.70 800.20L430.30 797.60Z" fill="#3A44D8" fill-opacity="0.45"/>
<path d="M432.70 795.00L435.10 797.60L432.70 800.20L430.30 797.60Z" fill="#3A44D8" fill-opacity="0.45"/>
<path d="M432.70 801.60L435.10 804.20L432.70 806.80L430.30 804.20Z" fill="#3A44D8" fill-opacity="0.45"/>
<path d="M432.70 810.30L435.10 812.90L432.70 815.50L430.30 812.90Z" fill="#3A44D8" fill-opacity="0.45"/>
<path d="M432.70 816.60L435.10 819.20L432.70 821.80L430.30 819.20Z" fill="#3A44D8" fill-opacity="0.45"/>
<path d="M432.70 821.80L435.10 824.40L432.70 827.00L430.30 824.40Z" fill="#3A44D8" fill-opacity="0.45"/>
<path d="M432.70 826.10L435.10 828.70L432.70 831.30L430.30 828.70Z" fill="#3A44D8" fill-opacity="0.45"/>
<path d="M432.70 837.70L435.10 840.30L432.70 842.90L430.30 840.30Z" fill="#3A44D8" fill-opacity="0.45"/>
<path d="M425.00 840.40L427.40 843.00L425.00 845.60L422.60 843.00Z" fill="#3A44D8" fill-opacity="0.45"/>
<path d="M432.70 852.40L435.10 855.00L432.70 857.60L430.30 855.00Z" fill="#3A44D8" fill-opacity="0.45"/>
<path d="M432.70 863.40L435.10 866.00L432.70 868.60L430.30 866.00Z" fill="#3A44D8" fill-opacity="0.45"/>
<line x1="79" y1="846.80" x2="482.8" y2="846.80" stroke="#111" stroke-width="1" stroke-dasharray="1 1"/>
<g stroke="#1B10D8" stroke-width="1.5" fill="none"><line x1="128.6" y1="568.9" x2="128.6" y2="674.6"/><line x1="128.6" y1="782.2" x2="128.6" y2="846.7"/><line x1="115.5" y1="568.9" x2="141.7" y2="568.9"/><line x1="115.5" y1="846.7" x2="141.7" y2="846.7"/><rect x="104.19999999999999" y="674.6" width="48.8" height="107.60000000000002"/><line x1="104.19999999999999" y1="724.5" x2="153.0" y2="724.5"/></g>
<g stroke="#1B10D8" stroke-width="1.5" fill="none"><line x1="204.8" y1="663.8" x2="204.8" y2="783"/><line x1="204.8" y1="846.2" x2="204.8" y2="881.4"/><line x1="191.70000000000002" y1="663.8" x2="217.9" y2="663.8"/><line x1="191.70000000000002" y1="881.4" x2="217.9" y2="881.4"/><rect x="180.4" y="783" width="48.8" height="63.200000000000045"/><line x1="180.4" y1="846.2" x2="229.20000000000002" y2="846.2"/></g>
<line x1="179.5" y1="846.3" x2="229.8" y2="846.3" stroke="#1B10D8" stroke-width="3.2"/>
<g stroke="#1B10D8" stroke-width="1.5" fill="none"><line x1="280.6" y1="686.3" x2="280.6" y2="846.8"/><line x1="280.6" y1="846.8" x2="280.6" y2="867.8"/><line x1="267.5" y1="686.3" x2="293.70000000000005" y2="686.3"/><line x1="267.5" y1="867.8" x2="293.70000000000005" y2="867.8"/><line x1="256.20000000000005" y1="846.8" x2="305.0" y2="846.8"/></g>
<line x1="256.2" y1="846.9" x2="305" y2="846.9" stroke="#3434F2" stroke-width="5" stroke-opacity="0.55"/>
<line x1="256.6" y1="846.9" x2="304.7" y2="846.9" stroke="#2420E6" stroke-width="3.2"/>
<g stroke="#1B10D8" stroke-width="1.5" fill="none"><line x1="356.8" y1="632.4" x2="356.8" y2="846"/><line x1="356.8" y1="846" x2="356.8" y2="879.4"/><line x1="343.7" y1="632.4" x2="369.90000000000003" y2="632.4"/><line x1="343.7" y1="879.4" x2="369.90000000000003" y2="879.4"/><line x1="332.40000000000003" y1="846" x2="381.2" y2="846"/></g>
<line x1="332.3" y1="845.9" x2="381.4" y2="845.9" stroke="#3434F2" stroke-width="4.8" stroke-opacity="0.55"/>
<line x1="332.7" y1="845.9" x2="381" y2="845.9" stroke="#2420E6" stroke-width="3.0"/>
<g stroke="#1B10D8" stroke-width="1.5" fill="none"><line x1="432.7" y1="632.4" x2="432.7" y2="784.7"/><line x1="432.7" y1="846" x2="432.7" y2="875"/><line x1="419.59999999999997" y1="632.4" x2="445.8" y2="632.4"/><line x1="419.59999999999997" y1="875" x2="445.8" y2="875"/><rect x="408.3" y="784.7" width="48.8" height="61.299999999999955"/><line x1="408.3" y1="846" x2="457.09999999999997" y2="846"/></g>
<line x1="408.3" y1="846.2" x2="457.1" y2="846.2" stroke="#1B10D8" stroke-width="3.0"/>
<line x1="78.4" y1="510.70" x2="78.4" y2="914.50" stroke="#000" stroke-width="1.8"/>
<line x1="77.5" y1="913.60" x2="483.5" y2="913.60" stroke="#000" stroke-width="1.8"/>
<line x1="71.3" y1="913.60" x2="78.4" y2="913.60" stroke="#000" stroke-width="1.6"/>
<text x="69.4" y="918.95" font-size="14.9" font-weight="bold" fill="#000" text-anchor="end">-1</text>
<line x1="71.3" y1="846.60" x2="78.4" y2="846.60" stroke="#000" stroke-width="1.6"/>
<text x="69.4" y="851.95" font-size="14.9" font-weight="bold" fill="#000" text-anchor="end">0</text>
<line x1="71.3" y1="779.60" x2="78.4" y2="779.60" stroke="#000" stroke-width="1.6"/>
<text x="69.4" y="784.95" font-size="14.9" font-weight="bold" fill="#000" text-anchor="end">1</text>
<line x1="71.3" y1="712.60" x2="78.4" y2="712.60" stroke="#000" stroke-width="1.6"/>
<text x="69.4" y="717.95" font-size="14.9" font-weight="bold" fill="#000" text-anchor="end">2</text>
<line x1="71.3" y1="645.60" x2="78.4" y2="645.60" stroke="#000" stroke-width="1.6"/>
<text x="69.4" y="650.95" font-size="14.9" font-weight="bold" fill="#000" text-anchor="end">3</text>
<line x1="71.3" y1="578.60" x2="78.4" y2="578.60" stroke="#000" stroke-width="1.6"/>
<text x="69.4" y="583.95" font-size="14.9" font-weight="bold" fill="#000" text-anchor="end">4</text>
<line x1="71.3" y1="511.60" x2="78.4" y2="511.60" stroke="#000" stroke-width="1.6"/>
<text x="69.4" y="516.95" font-size="14.9" font-weight="bold" fill="#000" text-anchor="end">5</text>
<line x1="128.8" y1="913.60" x2="128.8" y2="920.3" stroke="#000" stroke-width="1.6"/>
<text x="97.4" y="935.6" font-size="14.9" font-weight="bold" fill="#000" textLength="62.1" lengthAdjust="spacingAndGlyphs">Baseline</text>
<line x1="204.7" y1="913.60" x2="204.7" y2="920.3" stroke="#000" stroke-width="1.6"/>
<text x="181.20000000000002" y="935.6" font-size="14.9" font-weight="bold" fill="#000" textLength="45.8" lengthAdjust="spacingAndGlyphs">S/p C1</text>
<line x1="280.8" y1="913.60" x2="280.8" y2="920.3" stroke="#000" stroke-width="1.6"/>
<text x="256.7" y="935.6" font-size="14.9" font-weight="bold" fill="#000" textLength="46.8" lengthAdjust="spacingAndGlyphs">S/p C2</text>
<line x1="356.8" y1="913.60" x2="356.8" y2="920.3" stroke="#000" stroke-width="1.6"/>
<text x="341.29999999999995" y="935.6" font-size="14.9" font-weight="bold" fill="#000" textLength="29.7" lengthAdjust="spacingAndGlyphs">EOT</text>
<line x1="432.7" y1="913.60" x2="432.7" y2="920.3" stroke="#000" stroke-width="1.6"/>
<text x="404.79999999999995" y="935.6" font-size="14.9" font-weight="bold" fill="#000" textLength="55.0" lengthAdjust="spacingAndGlyphs">Last FU</text>
<text transform="translate(37,875.46) rotate(-90)" font-size="15" font-weight="bold" fill="#000" textLength="50.95" lengthAdjust="spacingAndGlyphs">Plasma</text>
<text transform="translate(37,820.10) rotate(-90)" font-size="15" font-weight="bold" fill="#000" textLength="45.77" lengthAdjust="spacingAndGlyphs">ctDNA</text>
<text transform="translate(37,770.35) rotate(-90)" font-size="15" font-weight="bold" fill="#000" textLength="97.12" lengthAdjust="spacingAndGlyphs">concentration</text>
<text transform="translate(37,670.22) rotate(-90)" font-size="15" font-weight="bold" fill="#000" textLength="33.59" lengthAdjust="spacingAndGlyphs">(Log</text>
<text transform="translate(37,634.77) rotate(-90)" font-size="15" font-weight="bold" fill="#000" textLength="17.23" lengthAdjust="spacingAndGlyphs">10</text>
<text transform="translate(37,612.29) rotate(-90)" font-size="15" font-weight="bold" fill="#000" textLength="63.68" lengthAdjust="spacingAndGlyphs">hGE/mL)</text>
</g>
</svg></div></body></html>
